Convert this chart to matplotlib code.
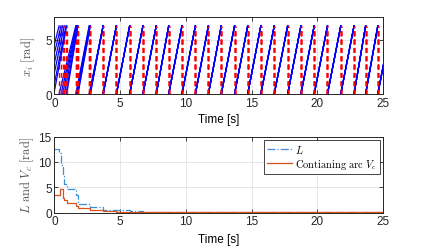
import matplotlib
matplotlib.use("Agg")
import matplotlib.pyplot as plt
import numpy as np

plt.rcParams['font.family'] = ['Liberation Sans', 'DejaVu Sans']
plt.rcParams['mathtext.fontset'] = 'cm'

# oscillator phases: initial phase and firing instants (s)
initPhase = [4.6, 3.8, 2.9, 2.0, 1.0, 0.3]
firstFire = [0.35, 0.50, 0.62, 0.75, 0.88, 0.93]
secondFire = [1.62, 1.66, 1.70, 1.73, 1.76, 1.79]
thirdFire = [2.64, 2.66, 2.68, 2.70, 2.71, 2.73]
syncFire = [3.70, 4.71, 5.72, 6.73, 7.74, 8.69, 9.70, 10.72, 11.71, 12.69,
            13.70, 14.70, 15.70, 16.72, 17.74, 18.75, 19.76, 20.77, 21.78,
            22.79, 23.67, 24.60, 25.60]

# bottom plot: step data
L_t = [0, 0.37, 0.50, 0.62, 0.75, 0.92, 1.63, 1.78, 2.74, 3.70, 4.71, 5.72, 6.73, 7.74, 25]
L_v = [12.57, 11.7, 9.5, 7.2, 5.6, 4.67, 3.5, 1.7, 1.06, 0.6, 0.45, 0.3, 0.15, 0.05, 0.05]
V_t = [0, 0.40, 0.62, 0.75, 0.92, 1.63, 1.78, 2.74, 3.70, 4.71, 5.72, 25]
V_v = [3.5, 4.6, 2.9, 2.6, 1.85, 1.27, 0.93, 0.53, 0.30, 0.18, 0.08, 0.08]

twoPi = 2 * np.pi
axColor = '#262626'
gridColor = '#e3e3e3'

fig = plt.figure(figsize=(4.24, 2.51), dpi=100)
ax1 = fig.add_axes([0.1285, 0.6215, 0.775, 0.307])
ax2 = fig.add_axes([0.1285, 0.1486, 0.775, 0.303])

# top: phases
for i in range(len(initPhase)):
    fires = [firstFire[i], secondFire[i], thirdFire[i]] + syncFire
    ax1.plot([0, fires[0]], [initPhase[i], twoPi], color='b', lw=0.9)
    for k in range(len(fires) - 1):
        ax1.plot([fires[k], fires[k + 1]], [0, twoPi], color='b', lw=0.9)
    for f in fires:
        ax1.plot([f, f], [0, twoPi], color='r', lw=1.0, dashes=(3.5, 2.5))

ax1.set_xlim(0, 25)
ax1.set_ylim(0, 7.1)
ax1.set_yticks([0, 5])
ax1.set_xticks([0, 5, 10, 15, 20, 25])
ax1.set_xlabel("Time [s]", fontsize=8.5, labelpad=3)
ax1.set_ylabel(r"$x_i\ \mathrm{[rad]}$", fontsize=9, color='#555555', labelpad=6)

# bottom: L and V_c
ax2.step(L_t, L_v, where='post', color='#3d8fd6', lw=0.9, ls='-.', label=r"$L$")
ax2.step(V_t, V_v, where='post', color='#D95319', lw=0.9, label=r"$\mathrm{Contianing\ arc}\ V_c$")
ax2.set_xlim(0, 25)
ax2.set_ylim(0, 15)
ax2.set_yticks([0, 5, 10, 15])
ax2.set_xticks([0, 5, 10, 15, 20, 25])
ax2.set_xlabel("Time [s]", fontsize=8.5, labelpad=4)
ax2.set_ylabel(r"$L\ \mathrm{and}\ V_c\ \mathrm{[rad]}$", fontsize=9, color='#555555', labelpad=2)
leg = ax2.legend(loc='upper right', fontsize=7.5, handlelength=2.4, framealpha=1,
                 fancybox=False, edgecolor=axColor, borderaxespad=0.3,
                 borderpad=0.3, labelspacing=0.2, handletextpad=0.3)
leg.get_frame().set_linewidth(0.6)

for ax in (ax1, ax2):
    ax.grid(True, color=gridColor, lw=0.6)
    ax.set_axisbelow(True)
    ax.tick_params(direction='in', length=3, width=0.6, colors=axColor,
                   labelsize=8.5, top=True, right=True, pad=2)
    ax.tick_params(labeltop=False, labelright=False)
    for s in ax.spines.values():
        s.set_color(axColor)
        s.set_linewidth(0.7)

fig.savefig("out.png", dpi=100)
